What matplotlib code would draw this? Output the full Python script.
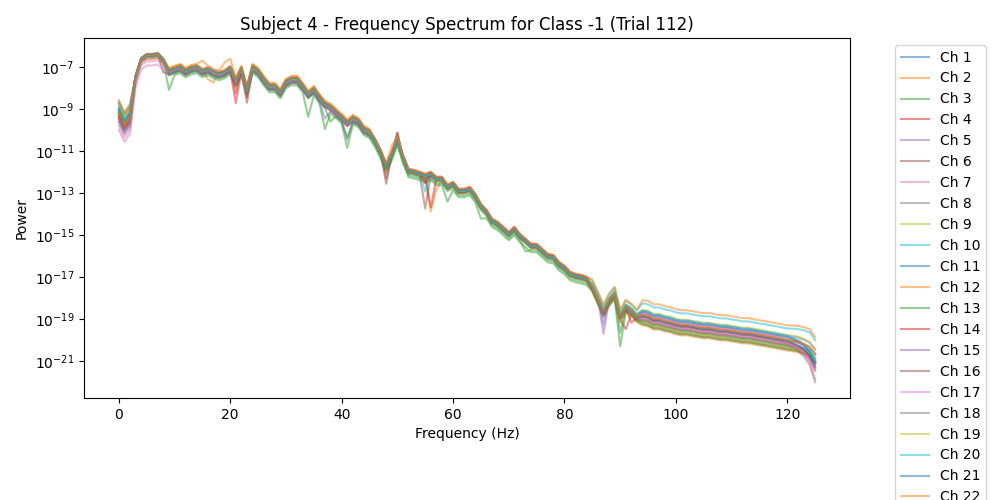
import numpy as np
import matplotlib
matplotlib.use("Agg")
import matplotlib.pyplot as plt

# ---------------- data ----------------
freqs = list(range(0, 126))  # Hz, 1 Hz resolution

# typical log10(power) across channels at each frequency
base_log10 = [
    -9.19, -9.76, -9.38, -7.52, -6.67, -6.48, -6.48, -6.43, -6.71, -7.24,
    -7.14, -7.05, -7.24, -7.10, -7.05, -7.24, -7.14, -7.29, -7.38, -7.29,
    -7.10, -7.71, -7.14, -8.10, -7.05, -7.24, -7.62, -7.95, -7.95, -8.24,
    -7.76, -7.62, -7.62, -7.95, -8.33, -8.10, -8.48, -8.81, -8.95, -9.19,
    -9.43, -9.71, -9.48, -9.62, -10.00, -10.14, -10.57, -11.10, -11.76, -11.19,
    -10.48, -11.33, -12.00, -12.05, -12.14, -12.24, -12.14, -12.38, -12.38, -12.76,
    -12.62, -12.95, -12.95, -12.86, -13.19, -13.67, -13.95, -14.38, -14.52, -14.76,
    -15.00, -14.76, -15.10, -15.33, -15.57, -15.57, -15.81, -16.05, -16.10, -16.43,
    -16.62, -16.90, -17.00, -17.05, -17.14, -17.52, -18.10, -18.71, -18.19, -17.86,
    -18.95, -18.48, -18.67, -18.95, -18.90, -18.95, -19.10, -19.10, -19.19, -19.24,
    -19.33, -19.38, -19.38, -19.43, -19.48, -19.52, -19.52, -19.57, -19.62, -19.62,
    -19.67, -19.71, -19.76, -19.76, -19.81, -19.86, -19.90, -19.95, -20.00, -20.05,
    -20.10, -20.14, -20.19, -20.29, -20.43, -20.76,
]

channel_names = [f"Ch {i}" for i in range(1, 23)]

# frequency bands (inclusive start, inclusive end) for per-channel offsets
band_edges = [(0, 2), (3, 8), (9, 45), (46, 84), (85, 93), (94, 125)]

# per-channel offsets in decades, one per band
band_offsets = [
    [0.15, 0.05, 0.05, 0.05, -0.05, -0.10],    # Ch 1
    [0.00, -0.15, 0.15, -0.05, -0.20, -0.40],  # Ch 2
    [-0.05, 0.00, -0.25, -0.25, -0.15, -0.35], # Ch 3
    [-0.20, 0.05, -0.10, 0.05, -0.10, -0.15],  # Ch 4
    [-0.30, 0.00, -0.15, 0.10, 0.10, 0.20],    # Ch 5
    [0.60, 0.05, -0.10, 0.00, -0.10, -0.30],   # Ch 6
    [-0.80, -0.45, -0.10, 0.15, 0.10, 0.15],   # Ch 7
    [-0.45, -0.10, 0.00, 0.05, 0.05, 0.00],    # Ch 8
    [0.50, 0.00, 0.05, -0.05, -0.10, -0.25],   # Ch 9
    [0.30, 0.05, 0.05, 0.10, 0.35, 0.65],      # Ch 10
    [0.20, 0.05, -0.05, 0.00, 0.15, 0.25],     # Ch 11
    [-0.10, 0.10, 0.20, 0.15, 0.40, 0.80],     # Ch 12
    [0.00, 0.00, -0.15, -0.15, -0.10, -0.20],  # Ch 13
    [-0.15, 0.05, 0.05, 0.10, 0.00, 0.00],     # Ch 14
    [-0.25, 0.00, -0.05, 0.05, 0.15, 0.30],    # Ch 15
    [0.45, 0.05, 0.05, -0.05, 0.05, 0.10],     # Ch 16
    [-0.60, -0.25, 0.00, 0.10, 0.00, -0.10],   # Ch 17
    [-0.35, -0.05, 0.00, 0.00, 0.05, 0.05],    # Ch 18
    [0.40, 0.05, 0.05, 0.05, 0.20, 0.35],      # Ch 19
    [0.25, 0.05, 0.10, 0.05, 0.15, 0.30],      # Ch 20
    [0.10, 0.10, 0.10, 0.10, 0.00, 0.05],      # Ch 21
    [0.05, 0.05, 0.15, 0.15, 0.05, 0.10],      # Ch 22
]

# extra offsets at 120..125 Hz (roll-off shapes seen at the right end)
end_freqs = [120, 121, 122, 123, 124, 125]
end_profiles = {
    "flat":   [0.00, 0.03, 0.06, 0.10, 0.15, 0.10],
    "mid":    [0.00, 0.00, 0.00, 0.00, 0.00, 0.00],
    "steep":  [0.00, -0.05, -0.12, -0.20, -0.35, -0.55],
    "vsteep": [-0.10, -0.20, -0.35, -0.50, -0.75, -1.25],
}
channel_profile = ["mid", "mid", "mid", "steep", "steep", "mid", "vsteep", "vsteep",
                   "mid", "flat", "steep", "flat", "mid", "steep", "mid", "mid",
                   "steep", "mid", "mid", "steep", "steep", "mid"]

# individual channel dips / peaks: {channel index: {freq: extra decades}}
channel_spikes = {
    0: {23: -0.4},
    1: {16: -0.6, 17: -0.6, 56: -1.7, 57: -0.4},
    2: {9: -0.6, 34: -0.8, 37: -0.9, 41: -0.9, 59: -0.4, 65: -0.3, 90: -1.2},
    3: {21: -0.9, 23: -0.5, 48: -0.6, 50: 0.3, 56: -1.6, 91: -0.9},
    4: {37: -0.5, 41: -0.6, 87: -1.1},
    5: {8: -0.6, 48: -0.8, 50: 0.35, 55: -1.5},
    9: {55: -0.8},
    11: {15: 0.35, 19: 0.3, 20: 0.3, 49: 0.3},
    12: {38: -0.5, 41: -0.5, 73: -0.3, 90: -0.6},
    13: {21: -0.6, 55: -0.4, 92: -0.5},
    14: {87: -0.7},
}

# ---------------- figure ----------------
fig = plt.figure(figsize=(10, 5), dpi=100)
ax = fig.add_axes([0.084, 0.204, 0.766, 0.72])

f_arr = np.array(freqs)
base = np.array(base_log10)
for ci, name in enumerate(channel_names):
    logp = base.copy()
    for (lo, hi), off in zip(band_edges, band_offsets[ci]):
        logp[(f_arr >= lo) & (f_arr <= hi)] += off
    for fq, extra in zip(end_freqs, end_profiles[channel_profile[ci]]):
        logp[f_arr == fq] += extra
    for fq, extra in channel_spikes.get(ci, {}).items():
        logp[f_arr == fq] += extra
    ax.semilogy(f_arr, 10.0 ** logp, alpha=0.5, label=name)

ax.set_ylim(10 ** -22.76, 10 ** -5.62)
ax.set_title("Subject 4 - Frequency Spectrum for Class -1 (Trial 112)")
ax.set_xlabel("Frequency (Hz)")
ax.set_ylabel("Power")
ax.legend(bbox_to_anchor=(1.05, 1), loc="upper left")

fig.savefig("out.png", dpi=100)
